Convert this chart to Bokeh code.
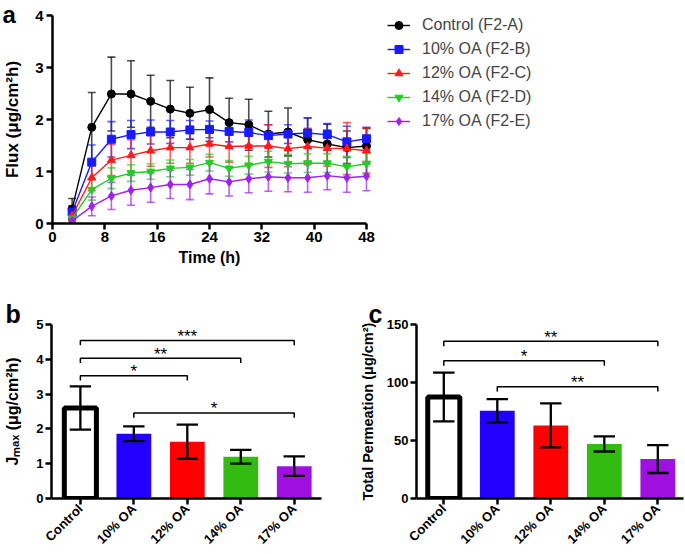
import math
from bokeh.plotting import figure
from bokeh.models import (ColumnDataSource, Whisker, TeeHead, Legend, LegendItem,
                          Range1d, FixedTicker, Title)
from bokeh.layouts import column, row
from bokeh.embed import file_html
from bokeh.resources import INLINE
from bokeh.core.properties import value

FONT = "Liberation Sans"

# ---------------- data: panel a (flux vs time) ----------------
times = [3, 6, 9, 12, 15, 18, 21, 24, 27, 30, 33, 36, 39, 42, 45, 48]
series_names = ["Control (F2-A)", "10% OA (F2-B)", "12% OA (F2-C)", "14% OA (F2-D)", "17% OA (F2-E)"]
flux_control = [0.28, 1.85, 2.49, 2.49, 2.35, 2.20, 2.12, 2.19, 1.94, 1.90, 1.72, 1.76, 1.61, 1.53, 1.46, 1.49]
sd_control = [0.20, 0.67, 0.71, 0.64, 0.50, 0.55, 0.50, 0.61, 0.47, 0.49, 0.44, 0.46, 0.42, 0.38, 0.32, 0.34]
flux_oa10 = [0.22, 1.18, 1.62, 1.71, 1.76, 1.76, 1.80, 1.81, 1.77, 1.75, 1.69, 1.72, 1.74, 1.71, 1.57, 1.63]
sd_oa10 = [0.12, 0.33, 0.34, 0.27, 0.23, 0.22, 0.18, 0.16, 0.20, 0.24, 0.21, 0.18, 0.29, 0.21, 0.30, 0.22]
flux_oa12 = [0.15, 0.88, 1.22, 1.31, 1.40, 1.46, 1.46, 1.53, 1.48, 1.49, 1.49, 1.44, 1.48, 1.45, 1.44, 1.40]
sd_oa12 = [0.10, 0.25, 0.30, 0.30, 0.30, 0.30, 0.30, 0.25, 0.30, 0.35, 0.41, 0.35, 0.35, 0.35, 0.50, 0.43]
flux_oa14 = [0.10, 0.65, 0.87, 0.97, 1.00, 1.06, 1.08, 1.17, 1.06, 1.12, 1.19, 1.15, 1.16, 1.16, 1.09, 1.15]
sd_oa14 = [0.06, 0.20, 0.20, 0.16, 0.15, 0.16, 0.15, 0.16, 0.15, 0.17, 0.20, 0.18, 0.18, 0.18, 0.20, 0.20]
flux_oa17 = [0.05, 0.33, 0.53, 0.64, 0.69, 0.75, 0.75, 0.86, 0.80, 0.86, 0.90, 0.88, 0.88, 0.92, 0.88, 0.91]
sd_oa17 = [0.04, 0.18, 0.26, 0.29, 0.28, 0.27, 0.29, 0.29, 0.27, 0.27, 0.28, 0.27, 0.28, 0.27, 0.28, 0.28]
time_ticks = [0, 8, 16, 24, 32, 40, 48]
flux_ticks = [0, 1, 2, 3, 4]

# ---------------- data: panels b and c ----------------
groups = ["Control", "10% OA", "12% OA", "14% OA", "17% OA"]
jmax_mean = [2.60, 1.86, 1.63, 1.20, 0.93]
jmax_sd = [0.62, 0.21, 0.49, 0.20, 0.28]
perm_mean = [87.5, 75.7, 63.0, 47.0, 34.0]
perm_sd = [21.0, 10.0, 19.0, 6.5, 12.0]
jmax_ticks = [0, 1, 2, 3, 4, 5]
perm_ticks = [0, 50, 100, 150]
# significance brackets: from group, to group, height, stars
jmax_sig_from = [1, 1, 1, 2]
jmax_sig_to = [5, 4, 3, 5]
jmax_sig_y = [4.54, 4.03, 3.53, 2.46]
jmax_sig_txt = ["***", "**", "*", "*"]
perm_sig_from = [1, 1, 2]
perm_sig_to = [5, 4, 5]
perm_sig_y = [135.5, 118.7, 96.4]
perm_sig_txt = ["**", "*", "**"]

line_colors = ["#000000", "#1a1aff", "#ff1a1a", "#22cc22", "#a020f0"]
markers = ["circle", "square", "triangle", "inverted_triangle", "diamond"]
marker_sizes = [8, 8, 8, 8, 9]
bar_colors = ["#ffffff", "#2200ff", "#ff0000", "#33bb11", "#a010e0"]


def style_axes(p, tick_size, label_size, label_standoff):
    for ax in (p.xaxis[0], p.yaxis[0]):
        ax.axis_line_width = 2.5
        ax.axis_line_color = "black"
        ax.major_tick_line_width = 2.5
        ax.major_tick_line_color = "black"
        ax.major_tick_out = 6
        ax.major_tick_in = 0
        ax.minor_tick_line_color = None
        ax.major_label_text_font = FONT
        ax.major_label_text_font_style = "bold"
        ax.major_label_text_font_size = tick_size
        ax.major_label_text_color = "black"
        ax.axis_label_text_font = FONT
        ax.axis_label_text_font_style = "bold"
        ax.axis_label_text_font_size = label_size
        ax.axis_label_text_color = "black"
        ax.major_label_standoff = 2
        ax.axis_label_standoff = label_standoff
    p.xgrid.visible = False
    p.ygrid.visible = False
    p.outline_line_color = None


def side_text(p, text, side, dx, standoff, size, valign="bottom"):
    t = Title(text=text, align="left", offset=dx, standoff=standoff,
              vertical_align=valign, text_font=FONT, text_font_size=size,
              text_font_style="bold", text_color="black")
    p.add_layout(t, side)


# ---------------- panel a ----------------
PA_W, PA_H = 685, 290
PA_L, PA_R, PA_T, PA_B = 52, 35, 15, 67
AXIS_PX = 314  # pixel length of the 0-48 h axis
pa_fw = PA_W - PA_L - PA_R
pa_fh = PA_H - PA_T - PA_B
x_end = time_ticks[-1] * pa_fw / AXIS_PX  # frame continues right to hold the legend
pa = figure(width=PA_W, height=PA_H, x_range=Range1d(0, x_end), y_range=Range1d(0, 4),
            output_backend="svg", toolbar_location=None,
            min_border_left=PA_L, min_border_right=PA_R,
            min_border_top=PA_T, min_border_bottom=PA_B)
style_axes(pa, "15px", "17px", 10)
pa.xaxis.bounds = (time_ticks[0], time_ticks[-1])
pa.xaxis.ticker = FixedTicker(ticks=time_ticks)
pa.yaxis.ticker = FixedTicker(ticks=flux_ticks)
pa.yaxis[0].major_label_standoff = 3
pa.yaxis.axis_label = "Flux (μg/cm²h)"
# x-axis title centred under the 0-48 h axis (the frame is wider, for the legend)
side_text(pa, "Time (h)", "below", 126, 8, "16px", valign="top")

means = [flux_control, flux_oa10, flux_oa12, flux_oa14, flux_oa17]
sds = [sd_control, sd_oa10, sd_oa12, sd_oa14, sd_oa17]
items = []
for name, m, s, col, mk, ms in zip(series_names, means, sds, line_colors, markers, marker_sizes):
    src = ColumnDataSource(dict(t=times, y=m,
                                lo=[a - b for a, b in zip(m, s)],
                                hi=[a + b for a, b in zip(m, s)]))
    w = Whisker(source=src, base="t", upper="hi", lower="lo",
                line_color=col, line_alpha=0.7, line_width=1.6,
                upper_head=TeeHead(size=8, line_color=col, line_alpha=0.7, line_width=1.6),
                lower_head=TeeHead(size=8, line_color=col, line_alpha=0.7, line_width=1.6))
    pa.add_layout(w)
    lr = pa.line("t", "y", source=src, line_color=col, line_width=1.4)
    sr = pa.scatter("t", "y", source=src, marker=mk, size=ms, fill_color=col, line_color=col)
    items.append(LegendItem(label=name, renderers=[lr, sr]))

legend = Legend(items=items, location=(335, 92), padding=0, margin=0,
                border_line_color=None, background_fill_alpha=0,
                label_text_font=FONT, label_text_font_size="16px",
                label_height=20, glyph_height=20, glyph_width=23, spacing=4,
                label_standoff=12)
pa.add_layout(legend)
side_text(pa, "a", "above", -50, -24, "24px")


# ---------------- bar panels ----------------
def bar_panel(width, lmin, rmin, xlo, xhi, means_, sds_, ticks, ymax, ylabel, letter, letter_dx,
              sig_from, sig_to, sig_y, sig_txt, ylabel_size, ylabel_standoff):
    H, T, B = 264, 34, 51
    fh = H - T - B
    p = figure(width=width, height=H, x_range=Range1d(xlo, xhi), y_range=Range1d(0, ymax),
               output_backend="svg", toolbar_location=None,
               min_border_left=lmin, min_border_right=rmin, min_border_top=T, min_border_bottom=B)
    style_axes(p, "13px", ylabel_size, ylabel_standoff)
    xs = list(range(1, len(groups) + 1))
    p.xaxis.ticker = FixedTicker(ticks=xs)
    p.xaxis.major_label_overrides = {i: g for i, g in zip(xs, groups)}
    p.xaxis.major_label_orientation = math.pi / 4
    p.yaxis.ticker = FixedTicker(ticks=ticks)
    p.yaxis.axis_label = ylabel
    src = ColumnDataSource(dict(x=xs, top=means_, fill=bar_colors,
                                line=["#000000"] + bar_colors[1:],
                                lw=[5, 0, 0, 0, 0],
                                bw=[0.6, 0.65, 0.65, 0.65, 0.65],
                                lo=[a - b for a, b in zip(means_, sds_)],
                                hi=[a + b for a, b in zip(means_, sds_)],
                                cl=[x - 0.2 for x in xs], cr=[x + 0.2 for x in xs]))
    p.vbar(x="x", top="top", bottom=0, width="bw", source=src, fill_color="fill",
           line_color="line", line_width="lw")
    p.segment(x0="x", y0="lo", x1="x", y1="hi", source=src, line_color="black", line_width=2.3)
    p.segment(x0="cl", y0="hi", x1="cr", y1="hi", source=src, line_color="black", line_width=2.3)
    p.segment(x0="cl", y0="lo", x1="cr", y1="lo", source=src, line_color="black", line_width=2.3)
    d = ymax / fh * 5.0
    bx = [[a, a, b, b] for a, b in zip(sig_from, sig_to)]
    by = [[y - d, y, y, y - d] for y in sig_y]
    p.multi_line(xs=bx, ys=by, line_color="black", line_width=1.5)
    p.text(x=[(a + b) / 2 for a, b in zip(sig_from, sig_to)], y=sig_y, text=sig_txt,
           text_font=value(FONT), text_font_size="17px", text_align="center",
           text_baseline="alphabetic", y_offset=-4, text_color="black")
    side_text(p, letter, "above", letter_dx, -6, "25px")
    return p


pb = bar_panel(340, 51, 19, 0.46, 5.51, jmax_mean, jmax_sd, jmax_ticks, 5, "Jₘₐₓ (μg/cm²h)", "b", -46,
               jmax_sig_from, jmax_sig_to, jmax_sig_y, jmax_sig_txt, "16px", 12)
pc = bar_panel(345, 76, 2, 0.49, 5.48, perm_mean, perm_sd, perm_ticks, 150, "Total Permeation (μg/cm²)", "c", -48,
               perm_sig_from, perm_sig_to, perm_sig_y, perm_sig_txt, "14.5px", 8)

layout = column(pa, row(pb, pc))
open("out.html", "w").write(file_html(layout, INLINE))
